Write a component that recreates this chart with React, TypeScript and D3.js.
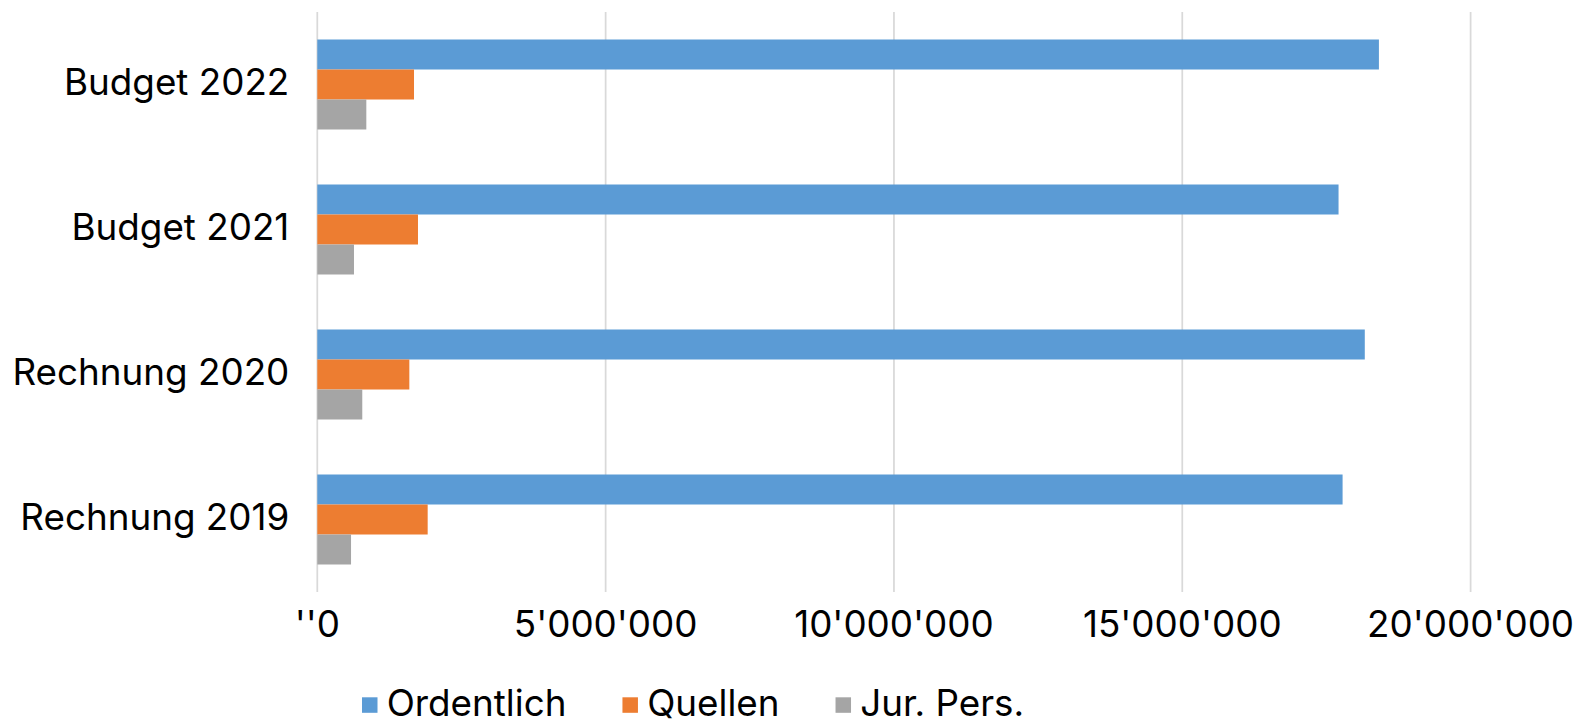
import React, { useRef, useEffect } from "react";
import * as d3 from "d3";

const categories = ["Budget 2022", "Budget 2021", "Rechnung 2020", "Rechnung 2019"];
const seriesNames = ["Ordentlich", "Quellen", "Jur. Pers."];
const ordentlich = [18410000, 17710000, 18165000, 17780000];
const quellen = [1677000, 1746000, 1596000, 1914000];
const jurPers = [850000, 636000, 780000, 585000];
const tickValues = [0, 5000000, 10000000, 15000000, 20000000];
const tickLabels = ["''0", "5'000'000", "10'000'000", "15'000'000", "20'000'000"];
const colors = ["#5B9BD5", "#ED7D31", "#A5A5A5"];

export default function App() {
  const ref = useRef<SVGSVGElement>(null);

  useEffect(() => {
    const svg = d3.select(ref.current);
    svg.selectAll("*").remove();

    const font = "Inter, 'Noto Sans', sans-serif";
    const fontSize = 36.8;
    const series = [ordentlich, quellen, jurPers];

    const x = d3.scaleLinear().domain([0, 20000000]).range([317.3, 1470.6]);
    const y = d3.scaleBand().domain(categories).range([12, 592])
      .paddingInner(0.3793).paddingOuter(0.3793 / 2);
    const ySub = d3.scaleBand().domain(seriesNames).range([0, y.bandwidth()]);

    // gridlines
    svg.append("g").selectAll("line")
      .data(tickValues)
      .join("line")
      .attr("x1", d => x(d)).attr("x2", d => x(d))
      .attr("y1", 12).attr("y2", 592)
      .attr("stroke", "#D9D9D9")
      .attr("stroke-width", 1.75);

    // bars
    seriesNames.forEach((name, si) => {
      svg.append("g").selectAll("rect")
        .data(categories)
        .join("rect")
        .attr("x", x(0))
        .attr("y", c => (y(c) as number) + (ySub(name) as number))
        .attr("width", (c, i) => x(series[si][i]) - x(0))
        .attr("height", ySub.bandwidth())
        .attr("fill", colors[si]);
    });

    // category labels
    svg.append("g").selectAll("text")
      .data(categories)
      .join("text")
      .attr("x", 289.3)
      .attr("y", c => (y(c) as number) + y.bandwidth() / 2 + 10.5)
      .attr("text-anchor", "end")
      .attr("font-family", font)
      .attr("font-size", fontSize)
      .attr("fill", "#000")
      .text(c => c);

    // tick labels
    svg.append("g").selectAll("text")
      .data(tickValues)
      .join("text")
      .attr("x", d => x(d))
      .attr("y", 636.7)
      .attr("text-anchor", "middle")
      .attr("font-family", font)
      .attr("font-size", fontSize)
      .attr("fill", "#000")
      .text((d, i) => tickLabels[i]);

    // legend
    let cx = 362;
    seriesNames.forEach((name, i) => {
      svg.append("rect")
        .attr("x", cx).attr("y", 697.3)
        .attr("width", 15.5).attr("height", 15.5)
        .attr("fill", colors[i]);
      const t = svg.append("text")
        .attr("x", cx + 24.7)
        .attr("y", 715.7)
        .attr("font-family", font)
        .attr("font-size", fontSize)
        .attr("fill", "#000")
        .text(name);
      const w = (t.node() as SVGTextElement).getComputedTextLength();
      cx += 24.7 + w + 56;
    });
  }, []);

  return (
    <svg
      ref={ref}
      width={1577}
      height={721}
      style={{ position: "absolute", left: 0, top: 0, background: "#fff" }}
    ></svg>
  );
}
